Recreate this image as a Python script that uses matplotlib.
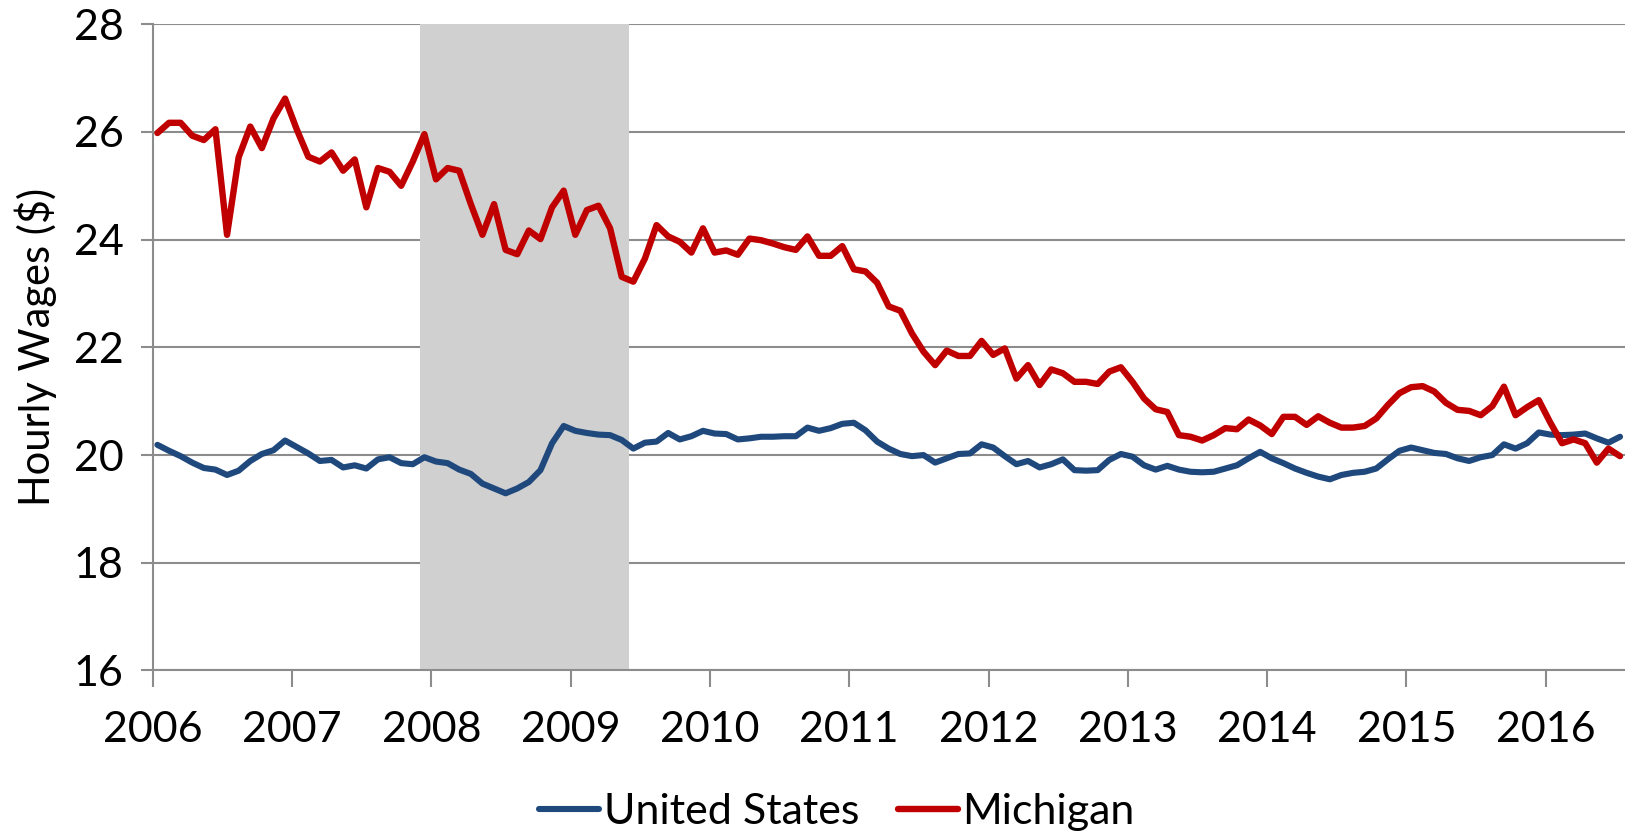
import matplotlib
matplotlib.use('Agg')
import matplotlib.pyplot as plt
import numpy as np

plt.rcParams['font.family'] = ['Lato', 'DejaVu Sans']

# monthly hourly wages, Jan 2006 - Jul 2016
start_year = 2006
michigan = [
    25.98, 26.17, 26.17, 25.93, 25.85, 26.05, 24.09, 25.53, 26.10, 25.70, 26.25, 26.62,
    26.05, 25.54, 25.45, 25.62, 25.28, 25.49, 24.60, 25.33, 25.26, 25.00, 25.45, 25.96,
    25.12, 25.33, 25.28, 24.66, 24.09, 24.66, 23.81, 23.73, 24.17, 24.01, 24.60, 24.91,
    24.09, 24.55, 24.63, 24.21, 23.31, 23.22, 23.65, 24.27, 24.06, 23.96, 23.76, 24.21,
    23.76, 23.80, 23.72, 24.02, 23.99, 23.93, 23.86, 23.81, 24.06, 23.70, 23.70, 23.88,
    23.45, 23.41, 23.20, 22.76, 22.68, 22.26, 21.92, 21.67, 21.94, 21.84, 21.84, 22.12,
    21.86, 21.98, 21.42, 21.67, 21.30, 21.59, 21.52, 21.36, 21.36, 21.32, 21.55, 21.63,
    21.36, 21.05, 20.85, 20.80, 20.37, 20.34, 20.27, 20.37, 20.50, 20.48, 20.66, 20.55,
    20.39, 20.71, 20.71, 20.56, 20.72, 20.60, 20.51, 20.51, 20.54, 20.68, 20.93, 21.15,
    21.26, 21.28, 21.18, 20.97, 20.84, 20.82, 20.74, 20.91, 21.27, 20.74, 20.89, 21.02,
    20.60, 20.22, 20.29, 20.22, 19.86, 20.12, 19.98,
]
united_states = [
    20.19, 20.08, 19.98, 19.86, 19.76, 19.73, 19.63, 19.71, 19.89, 20.02, 20.09, 20.27,
    20.15, 20.03, 19.89, 19.91, 19.77, 19.81, 19.75, 19.92, 19.96, 19.85, 19.83, 19.96,
    19.88, 19.85, 19.73, 19.65, 19.47, 19.38, 19.29, 19.38, 19.50, 19.72, 20.22, 20.54,
    20.45, 20.41, 20.38, 20.37, 20.28, 20.12, 20.23, 20.25, 20.41, 20.29, 20.35, 20.45,
    20.40, 20.39, 20.29, 20.31, 20.34, 20.34, 20.35, 20.35, 20.51, 20.45, 20.50, 20.58,
    20.60, 20.46, 20.25, 20.12, 20.02, 19.98, 20.00, 19.86, 19.94, 20.02, 20.03, 20.20,
    20.14, 19.98, 19.83, 19.89, 19.77, 19.83, 19.92, 19.72, 19.71, 19.72, 19.91, 20.02,
    19.97, 19.81, 19.73, 19.80, 19.73, 19.69, 19.68, 19.69, 19.75, 19.81, 19.94, 20.06,
    19.94, 19.85, 19.75, 19.67, 19.60, 19.55, 19.63, 19.67, 19.69, 19.75, 19.92, 20.08,
    20.14, 20.09, 20.04, 20.02, 19.94, 19.89, 19.96, 20.00, 20.20, 20.12, 20.22, 20.42,
    20.38, 20.37, 20.38, 20.40, 20.31, 20.23, 20.34,
]
years = list(range(2006, 2017))
# recession: Dec 2007 - Jun 2009
recession_start = 2007 + 11 / 12
recession_end = 2009 + 5 / 12

months = np.arange(len(michigan))
x = start_year + (months + 0.4) / 12

fig = plt.figure(figsize=(16.25, 8.36), dpi=100)
ax = fig.add_axes([0.094, 0.198, 0.906, 0.773])

grid_col = '#8c8c8c'
ax.axvspan(recession_start, recession_end, color='#d0d0d0', lw=0, zorder=1)
for v in range(16, 29, 2):
    ax.axhline(v, color=grid_col, lw=1.5, zorder=0.5)

ax.plot(x, united_states, color='#1f497d', lw=4.4, label='United States',
        solid_joinstyle='round', solid_capstyle='round', zorder=3)
ax.plot(x, michigan, color='#c00000', lw=4.6, label='Michigan',
        solid_joinstyle='round', solid_capstyle='round', zorder=3)

ax.set_xlim(2006, 2016.569)
ax.set_ylim(16, 28)
ax.set_xticks(years)
ax.set_xticklabels([str(y) for y in years])
ax.set_yticks(range(16, 29, 2))

for s in ['top', 'right']:
    ax.spines[s].set_visible(False)
for s in ['left', 'bottom']:
    ax.spines[s].set_color(grid_col)
    ax.spines[s].set_linewidth(1.5)

ax.tick_params(axis='x', direction='out', length=12, width=1.5, color=grid_col,
               labelsize=31, pad=17)
ax.tick_params(axis='y', direction='out', length=9, width=1.5, color=grid_col,
               labelsize=31, pad=12)
ax.set_ylabel('Hourly Wages ($)', fontsize=30, labelpad=12)

fig.legend(loc='lower center', bbox_to_anchor=(0.515, -0.04), ncol=2, frameon=False,
           fontsize=31, handlelength=1.4, handletextpad=0.1, columnspacing=0.9)

fig.savefig('out.png', dpi=100)
